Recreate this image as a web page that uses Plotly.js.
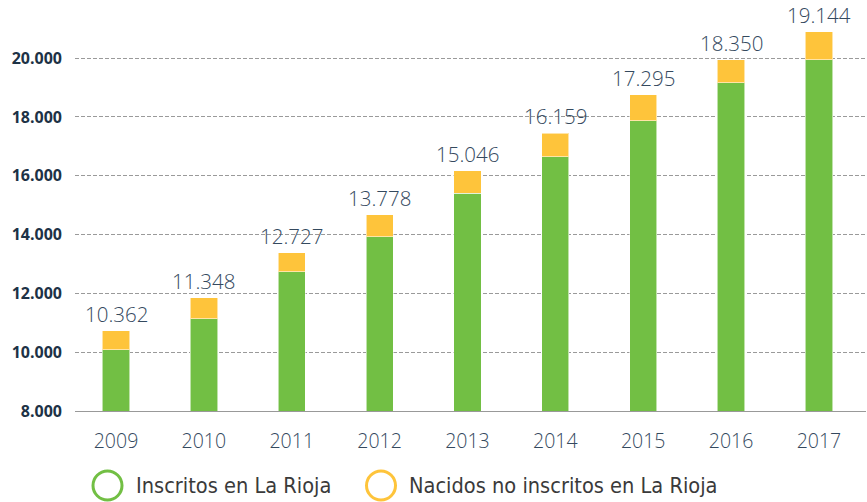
<!DOCTYPE html>
<html>
<head>
<meta charset="utf-8">
<script src="https://cdn.plot.ly/plotly-3.0.1.min.js"></script>
<style>html,body{margin:0;padding:0;background:#fff;}#chart{width:867px;height:502px;}</style>
</head>
<body>
<div id="chart"></div>
<script>
var years = ['2009','2010','2011','2012','2013','2014','2015','2016','2017'];
var inscritos = [10085, 11129, 12737, 13929, 15404, 16651, 17875, 19167, 19939];
var nacidosNoInscritos = [636, 725, 646, 738, 759, 793, 873, 772, 952];
var valueLabels = ['10.362','11.348','12.727','13.778','15.046','16.159','17.295','18.350','19.144'];
var yTicks = [8000, 10000, 12000, 14000, 16000, 18000, 20000];
var yTickText = ['8.000','10.000','12.000','14.000','16.000','18.000','20.000'];
var seriesNames = ['Inscritos en La Rioja', 'Nacidos no inscritos en La Rioja'];

var GREEN = '#72bf44', YELLOW = '#fec43b';
var condensed = '"DejaVu Sans Condensed", "Open Sans", sans-serif';

var traces = [
  {type:'bar', x: years, y: inscritos, name: seriesNames[0], width: 0.31,
   marker:{color: GREEN, line:{color:'rgba(255,255,255,0.55)', width:1}}, hoverinfo:'skip', showlegend:false},
  {type:'bar', x: years, y: nacidosNoInscritos, name: seriesNames[1], width: 0.31,
   marker:{color: YELLOW, line:{color:'rgba(255,255,255,0.55)', width:1}}, hoverinfo:'skip', showlegend:false}
];

var annotations = years.map(function(yr, i){
  return {x: i, y: inscritos[i] + nacidosNoInscritos[i], xref:'x', yref:'y', text: valueLabels[i],
    showarrow:false, xanchor:'center', yanchor:'middle', yshift:17,
    font:{family: '"Open Sans", sans-serif', size: 20.5, color:'#34495e', weight:300}};
});

function toPx(px){ return (px - 75) / 791; }
function toPy(py){ return (411 - py) / 397; }
var legY = toPy(485.5);
var shapes = [
  {type:'circle', xref:'paper', yref:'paper', xsizemode:'pixel', ysizemode:'pixel',
   xanchor: toPx(107.5), yanchor: legY, x0:-14.5, x1:14.5, y0:-14.5, y1:14.5,
   line:{color: GREEN, width:3}},
  {type:'circle', xref:'paper', yref:'paper', xsizemode:'pixel', ysizemode:'pixel',
   xanchor: toPx(381), yanchor: legY, x0:-14.5, x1:14.5, y0:-14.5, y1:14.5,
   line:{color: YELLOW, width:3}}
];
annotations.push({xref:'paper', yref:'paper', x: toPx(134), y: legY, xanchor:'left', yanchor:'middle',
  text: seriesNames[0], showarrow:false, font:{family: condensed, size:21.6, color:'#3a3a3a'}});
annotations.push({xref:'paper', yref:'paper', x: toPx(406.5), y: legY, xanchor:'left', yanchor:'middle',
  text: seriesNames[1], showarrow:false, font:{family: condensed, size:21.6, color:'#3a3a3a'}});

var layout = {
  width: 867, height: 502,
  margin: {l:75, r:1, t:14, b:91, pad:0},
  barmode: 'stack',
  paper_bgcolor:'#fff', plot_bgcolor:'#fff',
  showlegend: false,
  xaxis: {type:'category', range:[-0.4666, 8.535], showgrid:false, showline:true, linecolor:'#999', linewidth:1,
    ticks:'', ticklabelstandoff: 13, tickfont:{family:'"Open Sans", sans-serif', size:19.5, color:'#34495e', weight:300}, fixedrange:true},
  yaxis: {range:[8000, 21500], tickvals: yTicks, ticktext: yTickText, showgrid:true, gridcolor:'#9a9a9a',
    griddash:'4px,2px', gridwidth:1, zeroline:false, showline:false, ticks:'', ticklabelstandoff: 12,
    tickfont:{family:'"Open Sans", sans-serif', size:16, color:'#1d3246', weight:700}, fixedrange:true},
  shapes: shapes,
  annotations: annotations
};

Plotly.newPlot('chart', traces, layout, {displayModeBar:false, staticPlot:true});
</script>
</body>
</html>
